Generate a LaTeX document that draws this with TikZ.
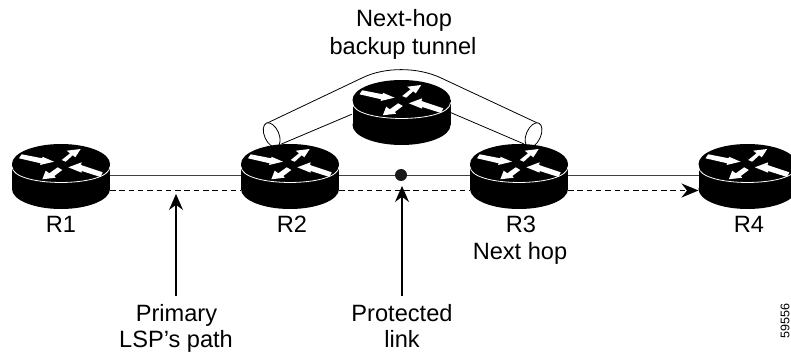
\documentclass[tikz,border=0pt]{standalone}
\usepackage{fontspec}
\setmainfont{Liberation Sans}
\usetikzlibrary{arrows.meta}
\tikzset{
  x=1pt,y=-1pt,
  routerbox/.style={minimum width=98pt,minimum height=65pt,inner sep=0pt,outer sep=0pt},
  lbl/.style={font=\fontsize{23.6}{23.6}\selectfont,inner sep=0pt,anchor=base},
  link/.style={draw=black!75,line width=0.9pt},
  lspath/.style={draw=black,line width=1.1pt,dash pattern=on 5.5pt off 3.8pt},
  callout/.style={draw=black,line width=1.1pt,-{Stealth[length=16pt,width=14pt]}},
  tube/.style={draw=black,line width=0.8pt},
  router/.pic={
    \fill[black] (-49,-12.5) rectangle (49,12.5);
    \fill[black] (0,12.5) ellipse[x radius=49,y radius=20];
    \fill[black] (0,-12.5) ellipse[x radius=49,y radius=20];
    \draw[white,line width=0.8pt] (-49,-10) .. controls (-49,11.3) and (49,11.3) .. (49,-10);
    \fill[white] (-39.3,-22.2) -- (-42,-18.2) -- (-20.3,-13.2) -- (-21,-11.5) -- (-7,-14.8) -- (-18.7,-19.8) -- (-18.7,-18.2) -- cycle;
    \fill[white] (0.7,-16.5) -- (4.7,-14.8) -- (11.7,-21.2) -- (14.3,-19.2) -- (19.7,-27.5) -- (5.7,-25.8) -- (9,-23.2) -- cycle;
    \fill[white] (41.7,-4.2) -- (39.5,0.5) -- (20.7,-5.5) -- (20.7,-3.8) -- (7.3,-9.2) -- (20.7,-14.2) -- (20,-11.5) -- cycle;
    \fill[white] (-3.3,-9.2) -- (1.3,-6.5) -- (-6.7,-0.5) -- (-5.3,1.2) -- (-18.7,2.8) -- (-15.3,-5.8) -- (-11.7,-3.2) -- cycle;
  }
}
\begin{document}
\begin{tikzpicture}
\useasboundingbox (0,0) rectangle (791,352);
\node[routerbox] (r1) at (61,176.5) {};
\node[routerbox] (r2) at (290,176.5) {};
\node[routerbox] (r3) at (519,176.5) {};
\node[routerbox] (r4) at (747.5,176.5) {};
\node[routerbox] (rb) at (401.5,112.5) {};
\node[circle,fill=black!90,minimum size=12pt,inner sep=0pt,outer sep=0pt] (dot) at (401,175) {};
\coordinate (pa) at (176,296);
\coordinate (pb) at (176,194);
\coordinate (la) at (402,296);
\coordinate (lb) at (402,186);
% links
\draw[link] ([yshift=1.5pt]r1.east) -- ([yshift=1.5pt]r2.west);
\draw[link] ([yshift=1.5pt]r2.east) -- (dot);
\draw[link] (dot) -- ([yshift=1.5pt]r3.west);
\draw[link] ([yshift=1.5pt]r3.east) -- ([yshift=1.5pt]r4.west);
\draw[lspath] ([yshift=-14pt]r1.east) -- ([yshift=-14pt]r2.west);
\draw[lspath] ([yshift=-14pt]r2.east) -- ([yshift=-14pt]r3.west);
\draw[lspath,-{Stealth[length=17pt,width=14pt]}] ([yshift=-14pt]r3.east) -- ([yshift=-14pt]r4.west);
\draw[callout] (pa) -- (pb);
\draw[callout] (la) -- (lb);
% backup tunnel
\draw[tube] (266.7,123.3) -- (363,77.5) .. controls (385,67) and (417,67) .. (440,77.5) -- (538,123.3);
\draw[tube] (281.5,144) -- (351.7,114.3);
\draw[tube] (451,112.7) -- (524,144);
\draw[tube,fill=white] (271.7,135) ellipse[x radius=7.2,y radius=13,rotate=24];
\draw[tube,fill=white] (533.5,135) ellipse[x radius=7.2,y radius=13,rotate=-24];
% routers
\pic at (r1) {router};
\pic at (r2) {router};
\pic at (r3) {router};
\pic at (r4) {router};
\pic at (rb) {router};
% labels
\node[lbl] (t1) at (61,233) {R1};
\node[lbl] (t2) at (292,233) {R2};
\node[lbl] (t3) at (521,233) {R3};
\node[lbl] (t3b) at (520,260) {Next hop};
\node[lbl] (t4) at (749,233) {R4};
\node[lbl] (t5) at (404,27) {Next-hop};
\node[lbl] (t6) at (403,55) {backup tunnel};
\node[lbl] (t7) at (176.5,321) {Primary};
\node[lbl] (t8) at (176,347) {LSP's path};
\node[lbl] (t9) at (402,321) {Protected};
\node[lbl] (t10) at (402,347) {link};
\node[font=\fontsize{12.5}{12.5}\selectfont,inner sep=0pt,rotate=90] (t11) at (785,321) {59556};
\end{tikzpicture}
\end{document}
